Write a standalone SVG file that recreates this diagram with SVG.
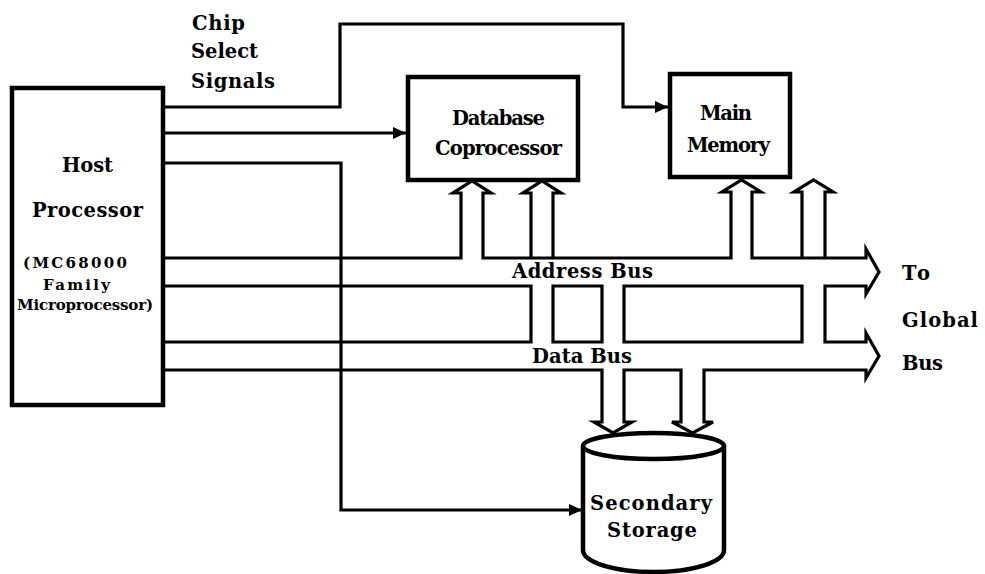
<svg xmlns="http://www.w3.org/2000/svg" width="985" height="574" viewBox="0 0 985 574">
<style>
.box{fill:#fff;stroke:#000;stroke-width:4.5}
.ln{fill:none;stroke:#000;stroke-width:3.2;stroke-linejoin:miter}
.t{font-family:"DejaVu Serif","Liberation Serif",serif;font-weight:bold;font-size:19.5px;fill:#000}
.s{font-size:15px}
</style>
<defs>
<marker id="ah" markerUnits="userSpaceOnUse" markerWidth="14" markerHeight="12" refX="13" refY="6" orient="auto">
<path d="M0,0 L13,6 L0,12 Z" fill="#000"/>
</marker>
</defs>
<rect width="985" height="574" fill="#fff"/>
<g id="connectors">
<path class="ln" d="M163,107 H340 V24 H623 V107 H668" marker-end="url(#ah)"/>
<path class="ln" d="M163,133 H406" marker-end="url(#ah)"/>
<path class="ln" d="M163,163 H341 V510 H582" marker-end="url(#ah)"/>
<path class="ln" d="M163,258 H461 V193 H453 L472,181 L491,193 H483 V258 H731 V192 H722 L741.5,180 L761,192 H752 V258 H866 V249 L879,272 L866,294 V286 H825 V342 H866 V333 L879,356 L866,378 V370 H704 V422 H713 L692.5,433 L672,422 H681 V370 H624 V422 H632 L613,433 L594,422 H602 V370 H163"/>
<path class="ln" d="M163,286 H531 V342 H163"/>
<path class="ln" d="M531,258 V193 H523 L542,181 L561,193 H553 V258"/>
<path class="ln" d="M553,286 H602 V342 H553 Z"/>
<path class="ln" d="M624,286 H802 V342 H624 Z"/>
<path class="ln" d="M802,258 V192 H794 L813.5,180 L833,192 H825 V258"/>
</g>
<g id="host">
<rect class="box" x="12" y="88" width="151" height="317"/>
<text class="t" x="62" y="172" textLength="51" lengthAdjust="spacing">Host</text>
<text class="t" x="32" y="217" textLength="111" lengthAdjust="spacing">Processor</text>
<text class="t s" x="23" y="268" textLength="104" lengthAdjust="spacing">(MC68000</text>
<text class="t s" x="43" y="290" textLength="67" lengthAdjust="spacing">Family</text>
<text class="t s" x="17" y="310" textLength="136" lengthAdjust="spacing">Microprocessor)</text>
</g>
<g id="dbcop">
<rect class="box" x="408" y="77" width="170" height="103"/>
<text class="t" x="452" y="125" textLength="93" lengthAdjust="spacing">Database</text>
<text class="t" x="435" y="155" textLength="127" lengthAdjust="spacing">Coprocessor</text>
</g>
<g id="mainmem">
<rect class="box" x="670" y="74" width="120" height="103"/>
<text class="t" x="700" y="120" textLength="52" lengthAdjust="spacing">Main</text>
<text class="t" x="687" y="152" textLength="83" lengthAdjust="spacing">Memory</text>
</g>
<g id="storage">
<path class="box" d="M583,446 V550 A70.5,22 0 0 0 724,550 V446"/>
<ellipse class="box" cx="653.5" cy="446" rx="70.5" ry="13"/>
<text class="t" x="590" y="510" textLength="122" lengthAdjust="spacing">Secondary</text>
<text class="t" x="607" y="537" textLength="90" lengthAdjust="spacing">Storage</text>
</g>
<g id="labels">
<text class="t" x="192" y="30" textLength="53" lengthAdjust="spacing">Chip</text>
<text class="t" x="191" y="58" textLength="67" lengthAdjust="spacing">Select</text>
<text class="t" x="191" y="88" textLength="84" lengthAdjust="spacing">Signals</text>
<text class="t" x="512" y="278" textLength="141" lengthAdjust="spacing">Address Bus</text>
<text class="t" x="532" y="363" textLength="100" lengthAdjust="spacing">Data Bus</text>
<text class="t" x="902" y="280" textLength="28" lengthAdjust="spacing">To</text>
<text class="t" x="902" y="327" textLength="76" lengthAdjust="spacing">Global</text>
<text class="t" x="902" y="370" textLength="41" lengthAdjust="spacing">Bus</text>
</g>
</svg>
